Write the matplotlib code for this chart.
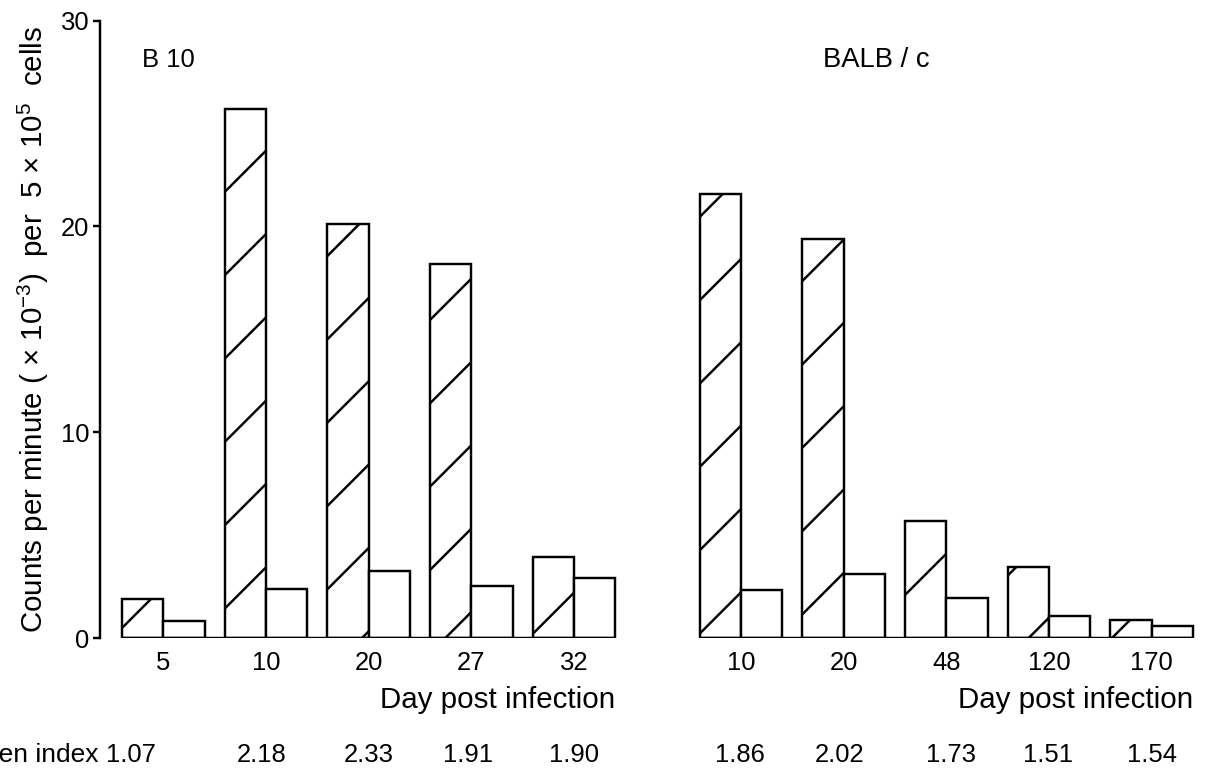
import matplotlib
matplotlib.use("Agg")
import matplotlib.pyplot as plt
import numpy as np

plt.rcParams['font.family'] = ['Liberation Sans', 'DejaVu Sans']
plt.rcParams['mathtext.fontset'] = 'custom'
plt.rcParams['mathtext.rm'] = 'Liberation Sans'
plt.rcParams['mathtext.it'] = 'Liberation Sans'
plt.rcParams['hatch.linewidth'] = 0.7

# Données
jours_b10 = ['5', '10', '20', '27', '32']
hachure_b10 = [1.92, 25.7, 20.1, 18.2, 3.95]
blanc_b10 = [0.85, 2.40, 3.28, 2.55, 2.94]
rate_b10 = ['1.07', '2.18', '2.33', '1.91', '1.90']

jours_balb = ['10', '20', '48', '120', '170']
hachure_balb = [21.6, 19.4, 5.7, 3.47, 0.90]
blanc_balb = [2.35, 3.13, 1.96, 1.09, 0.61]
rate_balb = ['1.86', '2.02', '1.73', '1.51', '1.54']

pas = 2.48        # distance entre deux groupes
debut_balb = 13.95  # début du second panneau
lw = 0.7
fs = 7.4     # chiffres
fs_txt = 8.5  # textes

fig = plt.figure(figsize=(4.82, 3.112), dpi=250)
ax = fig.add_axes([0.083, 0.17931, 0.9129, 0.79434])

pos_b10 = np.arange(len(jours_b10)) * pas
pos_balb = debut_balb + np.arange(len(jours_balb)) * pas

for pos, hach, blanc in [(pos_b10, hachure_b10, blanc_b10), (pos_balb, hachure_balb, blanc_balb)]:
    ax.bar(pos + 0.5, hach, width=1.0, facecolor='white', edgecolor='black',
           linewidth=lw, hatch='/')
    ax.bar(pos + 1.5, blanc, width=1.0, facecolor='white', edgecolor='black',
           linewidth=lw)
    # ligne de base sous chaque panneau
    ax.hlines(0, pos[0], pos[-1] + 2, color='black', linewidth=lw)

ax.set_xlim(-0.531, 26.04)
ax.set_ylim(0, 30)
ax.spines['top'].set_visible(False)
ax.spines['right'].set_visible(False)
ax.spines['bottom'].set_visible(False)
ax.spines['left'].set_linewidth(lw)
ax.spines['left'].set_bounds(0, 30)

ax.set_yticks([0, 10, 20, 30])
ax.tick_params(axis='y', length=2.0, width=lw, pad=1, labelsize=fs)

centres = list(pos_b10 + 1) + list(pos_balb + 1)
ax.set_xticks(centres)
ax.set_xticklabels(jours_b10 + jours_balb)
ax.tick_params(axis='x', length=0, pad=3.5, labelsize=fs)

ax.set_ylabel(r'Counts per minute ( × 10$^{-3}$)  per  5 × 10$^{5}$  cells',
              fontsize=fs_txt, labelpad=3)

ax.text(0.48, 28.1, 'B 10', fontsize=fs, va='center', ha='left')
ax.text(16.93, 28.1, 'BALB / c', fontsize=7.9, va='center', ha='left')

trans = matplotlib.transforms.blended_transform_factory(ax.transData, fig.transFigure)
ax.text(pos_b10[-1] + 2, 0.1003, 'Day post infection', transform=trans,
        fontsize=fs_txt, ha='right', va='center')
ax.text(pos_balb[-1] + 2, 0.1003, 'Day post infection', transform=trans,
        fontsize=fs_txt, ha='right', va='center')

# Indice splénique
y_rate = 0.0296
ax.text(-0.56, y_rate, 'Spleen index', transform=trans, fontsize=7.6,
        ha='right', va='center', clip_on=False)
decal = [-0.78, -0.1, 0, -0.08, 0]
for i, r in enumerate(rate_b10):
    ax.text(pos_b10[i] + 1 + decal[i], y_rate, r, transform=trans, fontsize=fs,
            ha='center', va='center')
decal2 = [-0.03, -0.1, 0.12, -0.03, 0]
for i, r in enumerate(rate_balb):
    ax.text(pos_balb[i] + 1 + decal2[i], y_rate, r, transform=trans, fontsize=fs,
            ha='center', va='center')

fig.savefig('out.png', dpi=250)
